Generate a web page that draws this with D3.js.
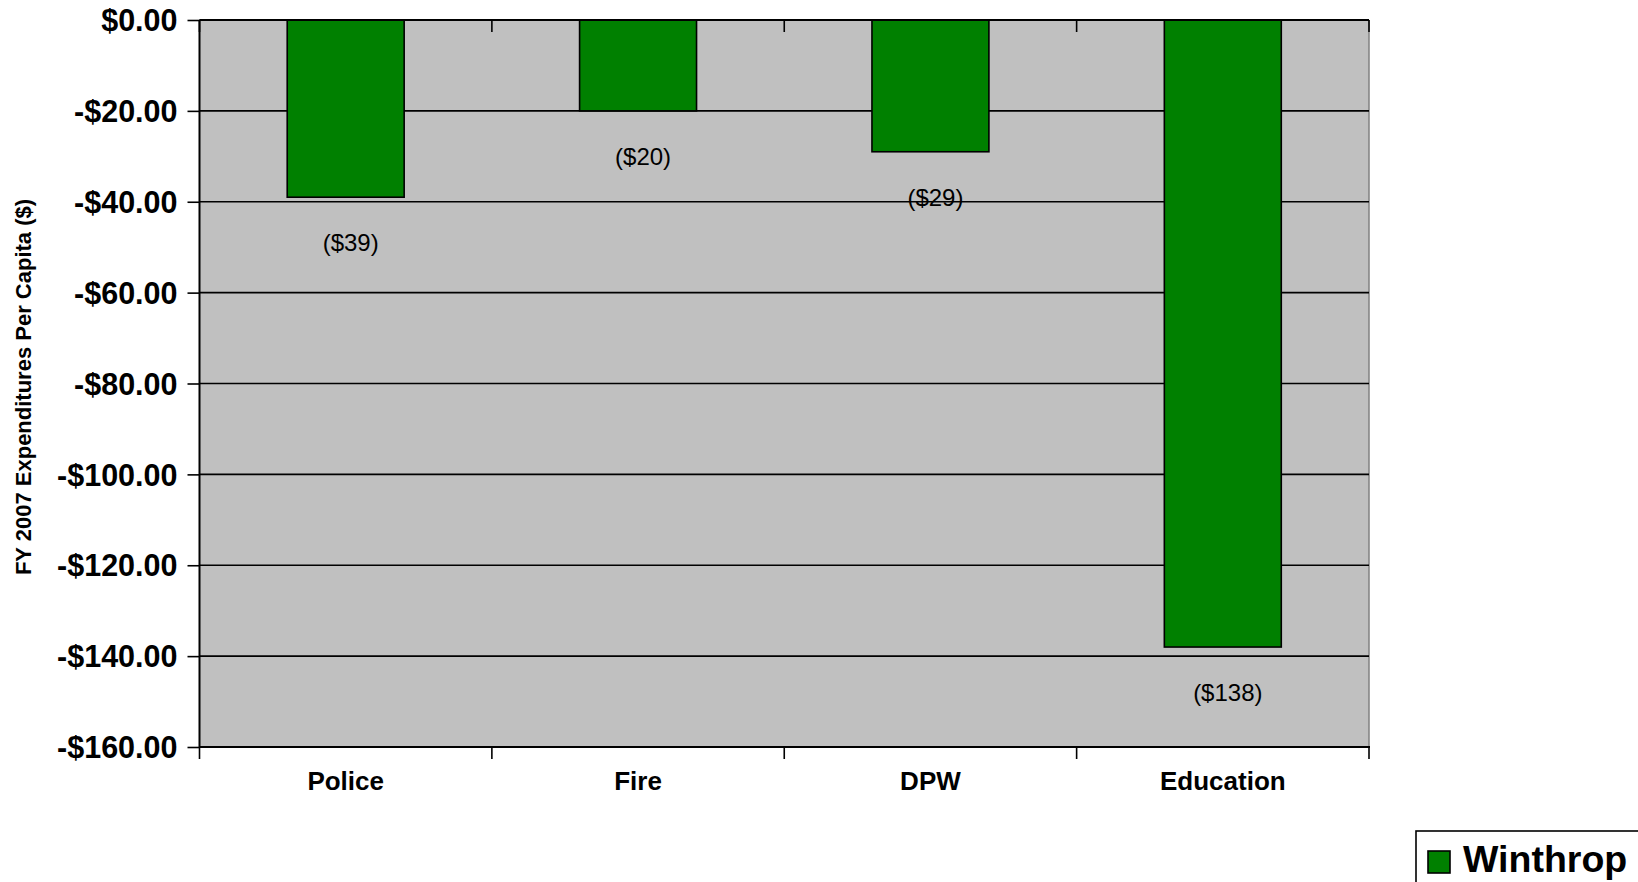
<!DOCTYPE html>
<html>
<head>
<meta charset="utf-8">
<script src="https://cdn.jsdelivr.net/npm/d3@7/dist/d3.min.js"></script>
<style>
  html, body { margin: 0; padding: 0; background: #fff; }
  svg { display: block; font-family: "Liberation Sans", Arial, Helvetica, sans-serif; }
</style>
</head>
<body>
<svg id="chart" width="1638" height="882"></svg>
<script>
// ---- data ----
const categories = ["Police", "Fire", "DPW", "Education"];
const values = [-39, -20, -29, -138];
const labels = ["($39)", "($20)", "($29)", "($138)"];
const yTicks = [0, -20, -40, -60, -80, -100, -120, -140, -160];
const seriesName = "Winthrop";
const yTitle = "FY 2007 Expenditures Per Capita ($)";

// ---- layout ----
const svg = d3.select("#chart");
const L = 199.5, R = 1369, T = 20, B = 747;

const x = d3.scaleBand().domain(categories).range([L, R]).paddingInner(0.6).paddingOuter(0.3);
const y = d3.scaleLinear().domain([-160, 0]).range([B, T]);

// plot background
svg.append("rect").attr("x", L).attr("y", T).attr("width", R - L).attr("height", B - T)
  .attr("fill", "#C0C0C0");

// right border (gray)
svg.append("line").attr("x1", R).attr("x2", R).attr("y1", T).attr("y2", B)
  .attr("stroke", "#808080").attr("stroke-width", 1.5);

// gridlines
svg.append("g").selectAll("line").data(yTicks).join("line")
  .attr("x1", L).attr("x2", R)
  .attr("y1", d => y(d)).attr("y2", d => y(d))
  .attr("stroke", "#000").attr("stroke-width", 1.6);

// bars
svg.append("g").selectAll("rect").data(categories).join("rect")
  .attr("x", d => x(d))
  .attr("width", x.bandwidth())
  .attr("y", (d, i) => y(Math.max(0, values[i])))
  .attr("height", (d, i) => Math.abs(y(values[i]) - y(0)))
  .attr("fill", "#008000")
  .attr("stroke", "#000").attr("stroke-width", 1.6);

// data labels
svg.append("g").selectAll("text").data(categories).join("text")
  .attr("x", d => x(d) + x.bandwidth() / 2 + 5)
  .attr("y", (d, i) => y(values[i]) + 54)
  .attr("text-anchor", "middle")
  .attr("font-size", 24)
  .attr("fill", "#000")
  .text((d, i) => labels[i]);

// category boundaries for ticks
const step = x.step();
const bounds = d3.range(categories.length + 1).map(i => L + i * step);

// top axis line with inward ticks
svg.append("line").attr("x1", L).attr("x2", R).attr("y1", T).attr("y2", T)
  .attr("stroke", "#000").attr("stroke-width", 2);
svg.append("g").selectAll("line").data(bounds).join("line")
  .attr("x1", d => d).attr("x2", d => d).attr("y1", T).attr("y2", T + 12)
  .attr("stroke", "#000").attr("stroke-width", 1.6);

// bottom x axis
const xAxis = d3.axisBottom(x).tickSize(0).tickPadding(0);
const gx = svg.append("g").attr("transform", `translate(0,${B})`).call(xAxis);
gx.select(".domain").remove();
gx.selectAll("text")
  .attr("y", 43).attr("dy", 0)
  .attr("font-size", 26).attr("font-weight", "bold")
  .attr("font-family", "'Liberation Sans', Arial, sans-serif")
  .attr("fill", "#000");
svg.append("line").attr("x1", L).attr("x2", R + 1).attr("y1", B).attr("y2", B)
  .attr("stroke", "#000").attr("stroke-width", 2);
svg.append("g").selectAll("line").data(bounds).join("line")
  .attr("x1", d => d).attr("x2", d => d).attr("y1", B).attr("y2", B + 12)
  .attr("stroke", "#000").attr("stroke-width", 1.6);

// left y axis
const fmt = v => (v < 0 ? "-" : "") + "$" + Math.abs(v).toFixed(2);
const yAxis = d3.axisLeft(y).tickValues(yTicks).tickFormat(fmt).tickSize(12).tickPadding(10);
const gy = svg.append("g").attr("transform", `translate(${L},0)`).call(yAxis);
gy.select(".domain").attr("stroke", "#000").attr("stroke-width", 2).attr("d", `M0,${T}V${B}`);
gy.selectAll(".tick line").attr("stroke", "#000").attr("stroke-width", 1.6);
gy.selectAll("text")
  .attr("font-size", 30.5).attr("font-weight", "bold")
  .attr("font-family", "'Liberation Sans', Arial, sans-serif")
  .attr("fill", "#000").attr("dy", "0.35em");

// y title
svg.append("text")
  .attr("transform", `translate(31,387) rotate(-90)`)
  .attr("text-anchor", "middle")
  .attr("font-size", 22).attr("font-weight", "bold")
  .attr("fill", "#000")
  .text(yTitle);

// legend
const lg = svg.append("g");
lg.append("rect").attr("x", 1416).attr("y", 831).attr("width", 260).attr("height", 80)
  .attr("fill", "#fff").attr("stroke", "#000").attr("stroke-width", 1.6);
lg.append("rect").attr("x", 1428).attr("y", 851).attr("width", 22).attr("height", 22)
  .attr("fill", "#008000").attr("stroke", "#000").attr("stroke-width", 1.6);
lg.append("text").attr("x", 1463).attr("y", 872)
  .attr("font-size", 37.5).attr("font-weight", "bold").attr("fill", "#000")
  .text(seriesName);
</script>
</body>
</html>
